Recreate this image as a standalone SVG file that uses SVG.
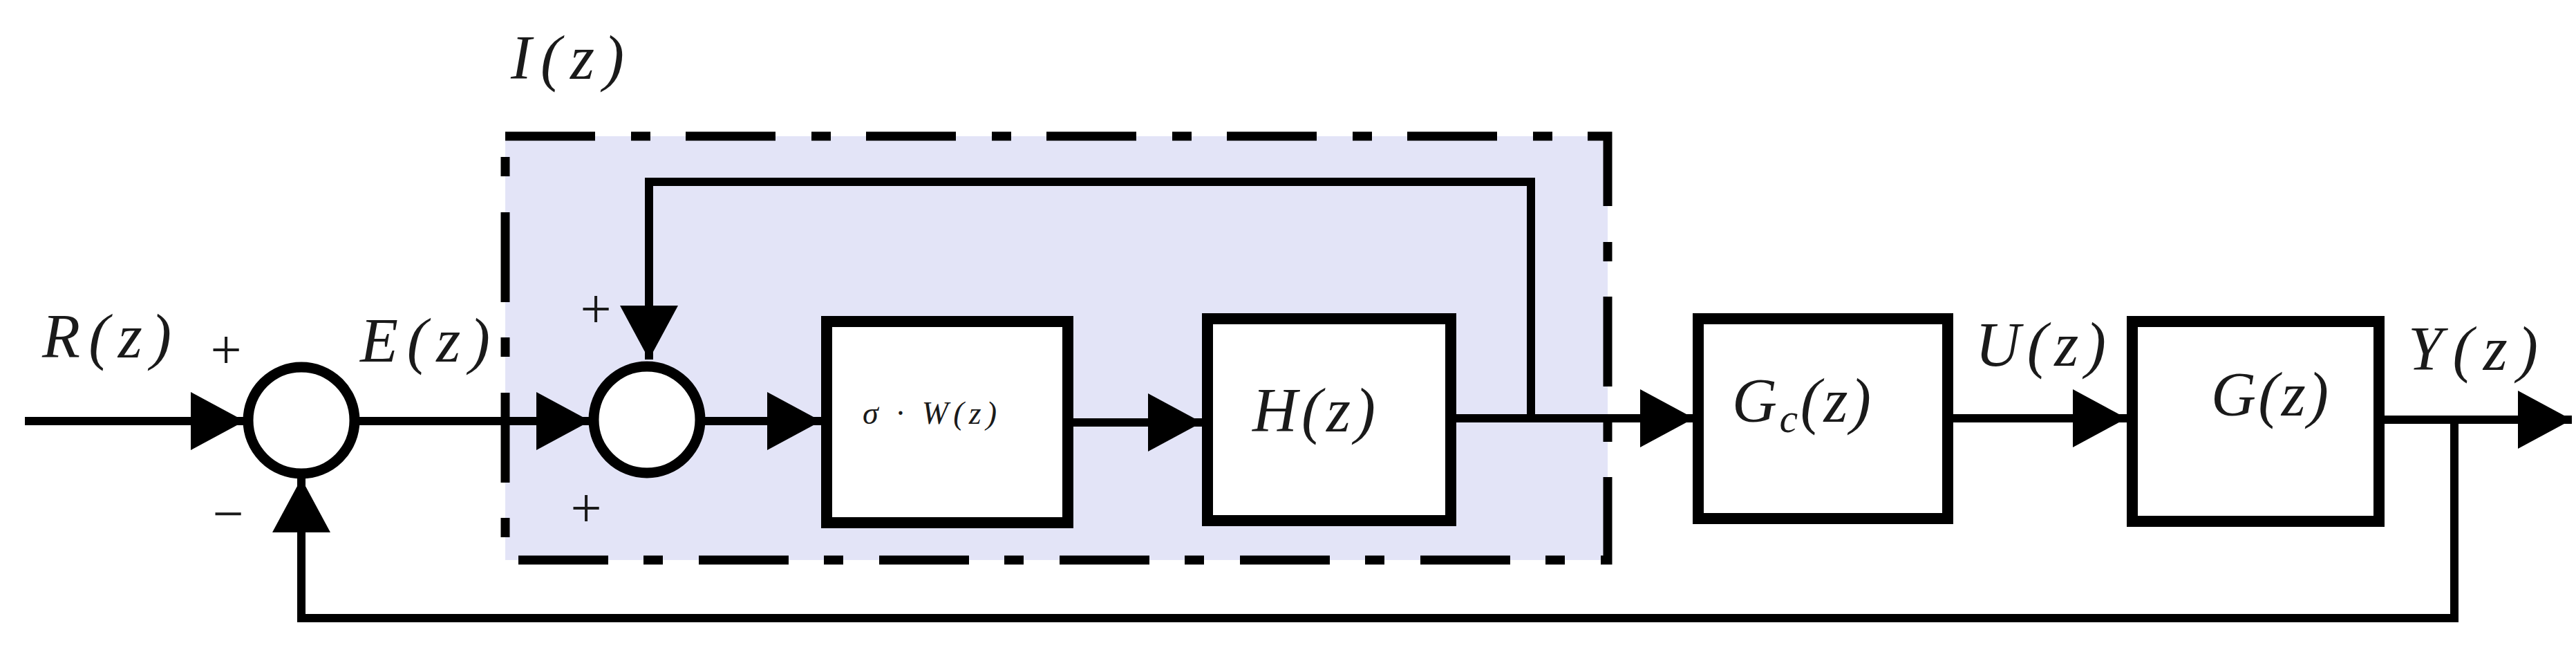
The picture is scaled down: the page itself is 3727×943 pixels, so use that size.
<svg xmlns="http://www.w3.org/2000/svg" width="3727" height="943" viewBox="0 0 3727 943">
<style>
.blk{fill:#fff;stroke:#000;stroke-width:16}
.sum{fill:#fff;stroke:#000;stroke-width:15}
.ln{fill:none;stroke:#000;stroke-width:12}
.t{font-family:"Liberation Serif",serif;font-style:italic;fill:#1a1a1a}
.s{font-family:"Liberation Serif",serif;fill:#1a1a1a}
</style>
<defs>
<marker id="ah" markerUnits="userSpaceOnUse" markerWidth="80" markerHeight="86" refX="78" refY="42" orient="auto" viewBox="0 0 80 86">
<path d="M0,0 L78,42 L0,84 z" fill="#000"/>
</marker>
</defs>
<g id="group-I">
<rect x="731" y="197" width="1595" height="613" fill="#e3e4f7" stroke="#000" stroke-width="13" stroke-dasharray="130 52 28 51"/>
<text class="t" x="739" y="114" font-size="90" textLength="164">I(z)</text>
</g>
<g id="connectors">
<path class="ln" d="M36,609 H354" marker-end="url(#ah)"/>
<path class="ln" d="M519,609 H854" marker-end="url(#ah)"/>
<path class="ln" d="M1018,609 H1188" marker-end="url(#ah)"/>
<path class="ln" d="M1545,611 H1739" marker-end="url(#ah)"/>
<path class="ln" d="M2099,605 H2451" marker-end="url(#ah)"/>
<path class="ln" d="M2215,605 V263 H939 V520" marker-end="url(#ah)"/>
<path class="ln" d="M2818,605 H3077" marker-end="url(#ah)"/>
<path class="ln" d="M3442,607 H3721" marker-end="url(#ah)"/>
<path class="ln" d="M3551,607 V894 H436 V692" marker-end="url(#ah)"/>
</g>
<g id="sum1">
<circle class="sum" cx="436" cy="608" r="77"/>
<text class="s" x="327" y="533" font-size="80" text-anchor="middle">+</text>
<text class="s" x="330" y="770" font-size="80" text-anchor="middle">−</text>
</g>
<g id="sum2">
<circle class="sum" cx="936" cy="607" r="77"/>
<text class="s" x="862" y="474" font-size="80" text-anchor="middle">+</text>
<text class="s" x="848" y="762" font-size="80" text-anchor="middle">+</text>
</g>
<g id="W">
<rect class="blk" x="1196" y="465" width="349" height="291"/>
<text class="t" x="1248" y="613" font-size="46" textLength="194">σ · W(z)</text>
</g>
<g id="H">
<rect class="blk" x="1747" y="461" width="352" height="292"/>
<text class="t" x="1812" y="624" font-size="90" textLength="178">H(z)</text>
</g>
<g id="Gc">
<rect class="blk" x="2457" y="461" width="361" height="289"/>
<text class="t" x="2506" y="610" font-size="90" textLength="201">G<tspan font-size="60" dy="15">c</tspan><tspan dy="-15">(z)</tspan></text>
</g>
<g id="G">
<rect class="blk" x="3085" y="465" width="357" height="289"/>
<text class="t" x="3199" y="601" font-size="90" textLength="170">G(z)</text>
</g>
<g id="labels">
<text class="t" x="61" y="517" font-size="90" textLength="187">R(z)</text>
<text class="t" x="521" y="523" font-size="90" textLength="188">E(z)</text>
<text class="t" x="2858" y="529" font-size="90" textLength="189">U(z)</text>
<text class="t" x="3484" y="535" font-size="90" textLength="188">Y(z)</text>
</g>
</svg>
